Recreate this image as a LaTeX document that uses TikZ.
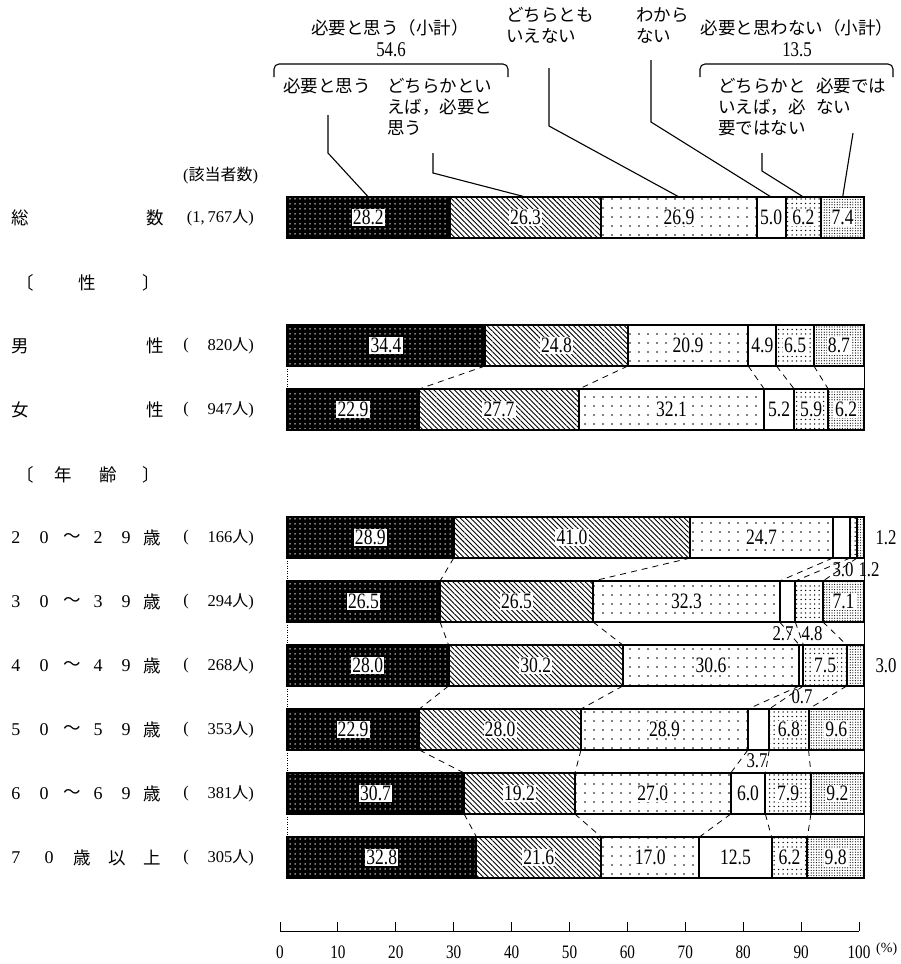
\documentclass[tikz,border=0pt]{standalone}
\usepackage{fontspec}
\setmainfont{Liberation Serif}
\newfontfamily\jp{Noto Sans CJK JP}
\newfontfamily\nf[FakeStretch=0.8]{Liberation Serif}
\usetikzlibrary{patterns.meta,calc}
\tikzset{
 outl/.style={line width=2pt, line join=miter},
 pA/.style={fill=black, postaction={pattern={Dots[distance=5pt,radius=0.75pt]}, pattern color=white}},
 pB/.style={fill=white, postaction={pattern={Lines[angle=-45,distance=3.6pt,line width=0.9pt]}, pattern color=black}},
 pC/.style={fill=white, postaction={pattern={Dots[distance=9pt,radius=0.8pt]}, pattern color=black}},
 pD/.style={fill=white},
 pE/.style={fill=white, postaction={pattern={Dots[distance=4.5pt,radius=0.75pt]}, pattern color=black}},
 pF/.style={fill=white, postaction={pattern={Dots[distance=2.6pt,radius=0.6pt]}, pattern color=black}},
 val/.style={font=\nf\fontsize{22}{22}\selectfont, fill=white, inner sep=1.2pt},
 sl/.style={font=\nf\fontsize{21}{22}\selectfont, inner sep=0pt},
 jl/.style={font=\jp\fontsize{17.5}{21}\selectfont, inner sep=0pt},
 cnt/.style={font=\fontsize{16.5}{20}\selectfont, inner sep=0pt},
 dig/.style={font=\fontsize{18}{20}\selectfont, inner sep=0pt},
 lead/.style={line width=1.1pt},
 conn/.style={line width=0.8pt, dash pattern=on 6pt off 5pt},
 dotc/.style={line width=0.8pt, dash pattern=on 1pt off 1.5pt},
 edge/.style={line width=0.7pt},
 axl/.style={font=\nf\fontsize{19}{20}\selectfont, inner sep=0pt},
}
\newcommand\barrow[8]{%
 \pgfmathsetmacro\sm{#3+#4+#5+#6+#7+#8}%
 \pgfmathsetmacro\ca{#3}%
 \pgfmathsetmacro\cb{\ca+#4}%
 \pgfmathsetmacro\cc{\cb+#5}%
 \pgfmathsetmacro\cd{\cc+#6}%
 \pgfmathsetmacro\ce{\cd+#7}%
 \foreach \k/\v in {0/0,1/\ca,2/\cb,3/\cc,4/\cd,5/\ce,6/\sm}{%
   \pgfmathsetmacro\xx{287+577*(\v/\sm)}%
   \coordinate (#1-t\k) at (\xx,#2);%
   \coordinate (#1-b\k) at (\xx,#2+41);%
 }%
 \fill[pA] (#1-t0) rectangle (#1-b1);
 \fill[pB] (#1-t1) rectangle (#1-b2);
 \fill[pC] (#1-t2) rectangle (#1-b3);
 \fill[pD] (#1-t3) rectangle (#1-b4);
 \fill[pE] (#1-t4) rectangle (#1-b5);
 \fill[pF] (#1-t5) rectangle (#1-b6);
 \draw[outl] (#1-t0) rectangle (#1-b6);
 \foreach \k in {1,...,5}{\draw[outl] (#1-t\k) -- (#1-b\k);}
}
\newcommand\joinrows[2]{%
 \draw[dotc] (#1-b0) -- (#2-t0);
 \foreach \k in {1,...,5}{\draw[conn] (#1-b\k) -- (#2-t\k);}
 \draw[edge] (#1-b6) -- (#2-t6);
}
\begin{document}
\begin{tikzpicture}[x=1pt,y=-1pt]
\useasboundingbox (0,0) rectangle (900,964);
\fill[white] (0,0) rectangle (900,964);

% ---- bars
\barrow{tot}{197}{28.2}{26.3}{26.9}{5.0}{6.2}{7.4}
\barrow{m}{325}{34.4}{24.8}{20.9}{4.9}{6.5}{8.7}
\barrow{f}{389}{22.9}{27.7}{32.1}{5.2}{5.9}{6.2}
\barrow{a2}{517}{28.9}{41.0}{24.7}{3.0}{1.2}{1.2}
\barrow{a3}{581}{26.5}{26.5}{32.3}{2.7}{4.8}{7.1}
\barrow{a4}{645}{28.0}{30.2}{30.6}{0.7}{7.5}{3.0}
\barrow{a5}{709}{22.9}{28.0}{28.9}{3.7}{6.8}{9.6}
\barrow{a6}{773}{30.7}{19.2}{27.0}{6.0}{7.9}{9.2}
\barrow{a7}{837}{32.8}{21.6}{17.0}{12.5}{6.2}{9.8}

% ---- connectors between rows
\joinrows{m}{f}
\joinrows{a2}{a3}
\joinrows{a3}{a4}
\joinrows{a4}{a5}
\joinrows{a5}{a6}
\joinrows{a6}{a7}

% ---- values inside bars
\node[val] (tot-v1) at ($(tot-t0)!.5!(tot-b1)$) {28.2};
\node[val] (tot-v2) at ($(tot-t1)!.5!(tot-b2)$) {26.3};
\node[val] (tot-v3) at ($(tot-t2)!.5!(tot-b3)$) {26.9};
\node[val] (tot-v4) at ($(tot-t3)!.5!(tot-b4)$) {5.0};
\node[val] (tot-v5) at ($(tot-t4)!.5!(tot-b5)$) {6.2};
\node[val] (tot-v6) at ($(tot-t5)!.5!(tot-b6)$) {7.4};

\node[val] (m-v1) at ($(m-t0)!.5!(m-b1)$) {34.4};
\node[val] (m-v2) at ($(m-t1)!.5!(m-b2)$) {24.8};
\node[val] (m-v3) at ($(m-t2)!.5!(m-b3)$) {20.9};
\node[val] (m-v4) at ($(m-t3)!.5!(m-b4)$) {4.9};
\node[val] (m-v5) at ($(m-t4)!.5!(m-b5)$) {6.5};
\node[val] (m-v6) at ($(m-t5)!.5!(m-b6)$) {8.7};

\node[val] (f-v1) at ($(f-t0)!.5!(f-b1)$) {22.9};
\node[val] (f-v2) at ($(f-t1)!.5!(f-b2)$) {27.7};
\node[val] (f-v3) at ($(f-t2)!.5!(f-b3)$) {32.1};
\node[val] (f-v4) at ($(f-t3)!.5!(f-b4)$) {5.2};
\node[val] (f-v5) at ($(f-t4)!.5!(f-b5)$) {5.9};
\node[val] (f-v6) at ($(f-t5)!.5!(f-b6)$) {6.2};

\node[val] (a2-v1) at ($(a2-t0)!.5!(a2-b1)$) {28.9};
\node[val] (a2-v2) at ($(a2-t1)!.5!(a2-b2)$) {41.0};
\node[val] (a2-v3) at ($(a2-t2)!.5!(a2-b3)$) {24.7};
\node[sl] (a2-v6) at (886,538) {1.2};
\node[sl] (a2-v4) at (843,570) {3.0};
\node[sl] (a2-v5) at (869,570) {1.2};

\node[val] (a3-v1) at ($(a3-t0)!.5!(a3-b1)$) {26.5};
\node[val] (a3-v2) at ($(a3-t1)!.5!(a3-b2)$) {26.5};
\node[val] (a3-v3) at ($(a3-t2)!.5!(a3-b3)$) {32.3};
\node[val] (a3-v6) at ($(a3-t5)!.5!(a3-b6)$) {7.1};
\node[sl] (a3-v4) at (783,634) {2.7};
\node[sl] (a3-v5) at (812,634) {4.8};

\node[val] (a4-v1) at ($(a4-t0)!.5!(a4-b1)$) {28.0};
\node[val] (a4-v2) at ($(a4-t1)!.5!(a4-b2)$) {30.2};
\node[val] (a4-v3) at ($(a4-t2)!.5!(a4-b3)$) {30.6};
\node[val] (a4-v5) at ($(a4-t4)!.5!(a4-b5)$) {7.5};
\node[sl] (a4-v6) at (886,666) {3.0};
\node[sl] (a4-v4) at (802,697) {0.7};

\node[val] (a5-v1) at ($(a5-t0)!.5!(a5-b1)$) {22.9};
\node[val] (a5-v2) at ($(a5-t1)!.5!(a5-b2)$) {28.0};
\node[val] (a5-v3) at ($(a5-t2)!.5!(a5-b3)$) {28.9};
\node[val] (a5-v5) at ($(a5-t4)!.5!(a5-b5)$) {6.8};
\node[val] (a5-v6) at ($(a5-t5)!.5!(a5-b6)$) {9.6};
\node[sl] (a5-v4) at (757,761) {3.7};

\node[val] (a6-v1) at ($(a6-t0)!.5!(a6-b1)$) {30.7};
\node[val] (a6-v2) at ($(a6-t1)!.5!(a6-b2)$) {19.2};
\node[val] (a6-v3) at ($(a6-t2)!.5!(a6-b3)$) {27.0};
\node[val] (a6-v4) at ($(a6-t3)!.5!(a6-b4)$) {6.0};
\node[val] (a6-v5) at ($(a6-t4)!.5!(a6-b5)$) {7.9};
\node[val] (a6-v6) at ($(a6-t5)!.5!(a6-b6)$) {9.2};

\node[val] (a7-v1) at ($(a7-t0)!.5!(a7-b1)$) {32.8};
\node[val] (a7-v2) at ($(a7-t1)!.5!(a7-b2)$) {21.6};
\node[val] (a7-v3) at ($(a7-t2)!.5!(a7-b3)$) {17.0};
\node[val] (a7-v4) at ($(a7-t3)!.5!(a7-b4)$) {12.5};
\node[val] (a7-v5) at ($(a7-t4)!.5!(a7-b5)$) {6.2};
\node[val] (a7-v6) at ($(a7-t5)!.5!(a7-b6)$) {9.8};

% ---- legend
\node[jl] (h1) at (390,28) {必要と思う（小計）};
\node[sl] (h1v) at (391,50) {54.6};
\draw[lead, rounded corners=5pt] (274,77) -- (274,64) -- (508,64) -- (508,77);
\node[jl, anchor=west] (g1) at (283,86) {必要と思う};
\node[jl, anchor=west] (g2a) at (387,86) {どちらかとい};
\node[jl, anchor=west] (g2b) at (387,107) {えば，必要と};
\node[jl, anchor=west] (g2c) at (387,128) {思う};
\node[jl, anchor=west] (g3a) at (506,15) {どちらとも};
\node[jl, anchor=west] (g3b) at (506,36) {いえない};
\node[jl, anchor=west] (g4a) at (636,15) {わから};
\node[jl, anchor=west] (g4b) at (636,36) {ない};
\node[jl] (h2) at (797,28) {必要と思わない（小計）};
\node[sl] (h2v) at (797,50) {13.5};
\draw[lead, rounded corners=5pt] (700,77) -- (700,64) -- (893,64) -- (893,77);
\node[jl, anchor=west] (g5a) at (718,86) {どちらかと};
\node[jl, anchor=west] (g5b) at (718,107) {いえば，必};
\node[jl, anchor=west] (g5c) at (718,128) {要ではない};
\node[jl, anchor=west] (g6a) at (816,86) {必要では};
\node[jl, anchor=west] (g6b) at (816,107) {ない};

% leaders
\coordinate (k1a) at (328,115); \coordinate (k1b) at (328,153);
\coordinate (k2a) at (433,153); \coordinate (k2b) at (433,173);
\coordinate (k3a) at (549,68);  \coordinate (k3b) at (549,126);
\coordinate (k4a) at (651,60);  \coordinate (k4b) at (651,122);
\coordinate (k5a) at (762,153); \coordinate (k5b) at (762,171);
\coordinate (k6a) at (853,133);
\draw[lead] (k1a) -- (k1b) -- ($(tot-t0)!.5!(tot-t1)$);
\draw[lead] (k2a) -- (k2b) -- ($(tot-t1)!.5!(tot-t2)$);
\draw[lead] (k3a) -- (k3b) -- ($(tot-t2)!.5!(tot-t3)$);
\draw[lead] (k4a) -- (k4b) -- ($(tot-t3)!.5!(tot-t4)$);
\draw[lead] (k5a) -- (k5b) -- ($(tot-t4)!.5!(tot-t5)$);
\draw[lead] (k6a) -- ($(tot-t5)!.5!(tot-t6)$);

% ---- left labels
\node[cnt, anchor=west] (hd) at (183,176) {({\jp\fontsize{16}{20}\selectfont 該当者数})};

\node[jl] (l1a) at (20,218) {総};
\node[jl] (l1b) at (155,218) {数};
\node[cnt, anchor=east] (l1c) at (254,218) {(1,\,767{\jp\fontsize{16}{20}\selectfont 人})};

\node[jl] (s1) at (25,283) {〔};
\node[jl] (s2) at (87,283) {性};
\node[jl] (s3) at (151,283) {〕};

\node[jl] (l2a) at (20,346) {男};
\node[jl] (l2b) at (155,346) {性};
\node[cnt] (l2p) at (186,346) {(};
\node[cnt, anchor=east] (l2c) at (254,346) {820{\jp\fontsize{16}{20}\selectfont 人})};

\node[jl] (l3a) at (20,410) {女};
\node[jl] (l3b) at (155,410) {性};
\node[cnt] (l3p) at (186,410) {(};
\node[cnt, anchor=east] (l3c) at (254,410) {947{\jp\fontsize{16}{20}\selectfont 人})};

\node[jl] (y1) at (25,475) {〔};
\node[jl] (y2) at (63,475) {年};
\node[jl] (y3) at (108,475) {齢};
\node[jl] (y4) at (151,475) {〕};

\foreach \r/\yy/\d/\n in {a2/538/2/166, a3/602/3/294, a4/666/4/268, a5/730/5/353, a6/794/6/381}{
  \node[dig] (\r-la) at (16,\yy) {\d};
  \node[dig] (\r-lb) at (44,\yy) {0};
  \node[jl]  (\r-lc) at (72,\yy) {～};
  \node[dig] (\r-ld) at (98,\yy) {\d};
  \node[dig] (\r-le) at (126,\yy) {9};
  \node[jl]  (\r-lf) at (152,\yy) {歳};
  \node[cnt] (\r-lp) at (186,\yy) {(};
  \node[cnt, anchor=east] (\r-lg) at (254,\yy) {\n{\jp\fontsize{16}{20}\selectfont 人})};
}
\node[dig] (a7-la) at (16,858) {7};
\node[dig] (a7-lb) at (49,858) {0};
\node[jl]  (a7-lc) at (82,858) {歳};
\node[jl]  (a7-ld) at (117,858) {以};
\node[jl]  (a7-le) at (152,858) {上};
\node[cnt] (a7-lp) at (186,858) {(};
\node[cnt, anchor=east] (a7-lg) at (254,858) {305{\jp\fontsize{16}{20}\selectfont 人})};

% ---- axis
\coordinate (ax0) at (280,931);
\coordinate (ax1) at (859,931);
\draw[line width=1pt] (ax0) -- (ax1);
\foreach \i in {0,...,10}{
  \draw[line width=1pt] ($(ax0)!\i/10!(ax1)$) -- ++(0,-9);
  \pgfmathtruncatemacro\lab{\i*10}
  \node[axl] (axl\i) at ($(ax0)!\i/10!(ax1)+(0,21)$) {\lab};
}
\node[axl, font=\fontsize{14}{18}\selectfont, anchor=west] (pct) at (876,949) {(\%)};
\end{tikzpicture}
\end{document}
